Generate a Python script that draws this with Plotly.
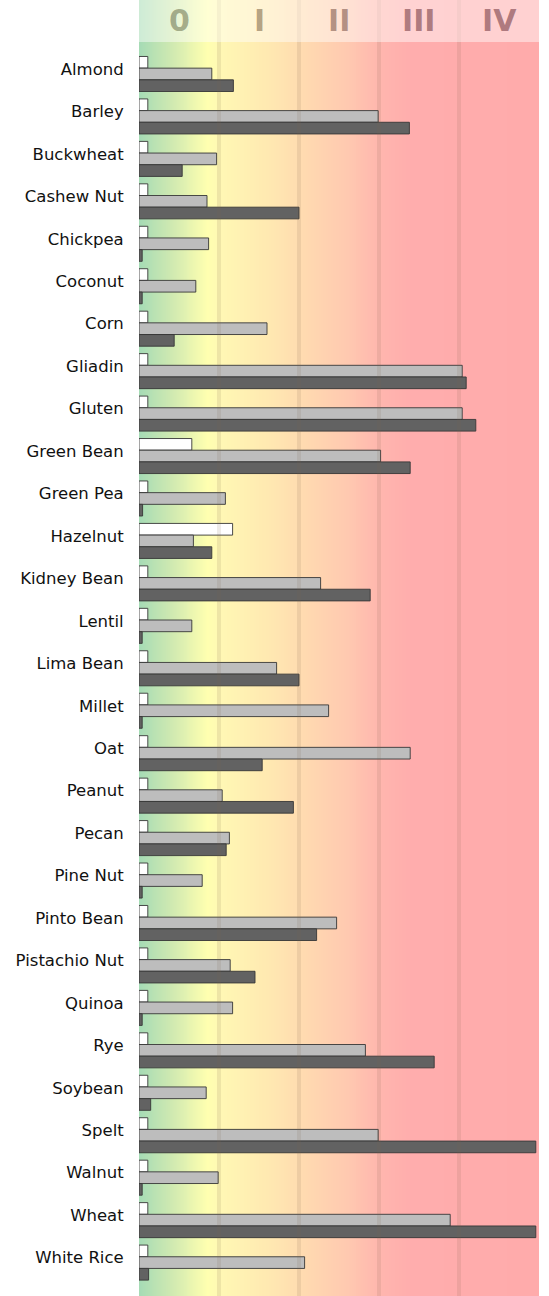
import plotly.graph_objects as go
import numpy as np

categories = ["Almond", "Barley", "Buckwheat", "Cashew Nut", "Chickpea", "Coconut", "Corn",
              "Gliadin", "Gluten", "Green Bean", "Green Pea", "Hazelnut", "Kidney Bean", "Lentil",
              "Lima Bean", "Millet", "Oat", "Peanut", "Pecan", "Pine Nut", "Pinto Bean",
              "Pistachio Nut", "Quinoa", "Rye", "Soybean", "Spelt", "Walnut", "Wheat", "White Rice"]

series_white = [0.11, 0.11, 0.11, 0.11, 0.11, 0.11, 0.11, 0.11, 0.11, 0.66, 0.11, 1.17, 0.11, 0.11,
                0.11, 0.11, 0.11, 0.11, 0.11, 0.11, 0.11, 0.11, 0.11, 0.11, 0.11, 0.11, 0.11, 0.11, 0.11]
series_gray = [0.91, 2.99, 0.97, 0.85, 0.87, 0.71, 1.60, 4.04, 4.04, 3.02, 1.08, 0.68, 2.27, 0.66,
               1.72, 2.37, 3.39, 1.04, 1.13, 0.79, 2.47, 1.14, 1.17, 2.83, 0.84, 2.99, 0.99, 3.89, 2.07]
series_dark = [1.18, 3.38, 0.54, 2.00, 0.04, 0.04, 0.44, 4.09, 4.21, 3.39, 0.045, 0.91, 2.89, 0.04,
               2.00, 0.04, 1.54, 1.93, 1.09, 0.04, 2.22, 1.45, 0.04, 3.69, 0.146, 4.96, 0.04, 4.96, 0.12]

class_labels = ["0", "I", "II", "III", "IV"]

# background gradient stops (x in class units, colour)
bg_stops = [(0.0, "#a6dbb5"), (0.4, "#cfe9b1"), (0.85, "#ffffb0"), (1.0, "#fff8b4"),
            (1.6, "#ffe9b1"), (2.0, "#ffdcb0"), (2.6, "#ffc9b0"), (3.0, "#ffb6ae"),
            (3.4, "#ffadad"), (5.0, "#ffabab")]
header_colors = ["rgba(75,80,45,0.45)", "rgba(90,60,30,0.45)", "rgba(85,40,30,0.45)",
                 "rgba(85,25,35,0.48)", "rgba(85,25,35,0.48)"]

XMAX = 5.0
Y_TOP = -1.743
Y_BOT = 28.787
HEADER_BOTTOM = -0.754

pos = list(range(len(categories)))

fig = go.Figure()

# gradient background
hx = np.linspace(-0.05, XMAX + 0.05, 211)
fig.add_trace(go.Heatmap(
    x=hx, y=[Y_TOP - 1, Y_BOT + 1], z=[hx, hx],
    colorscale=[[max(0, min(1, s / XMAX)), c] for s, c in bg_stops],
    zmin=0, zmax=XMAX, zsmooth="best", showscale=False, hoverinfo="skip"))

# class boundary lines
for k in range(1, len(class_labels)):
    fig.add_trace(go.Scatter(x=[k, k], y=[Y_TOP - 1, Y_BOT + 1], mode="lines",
                             line=dict(color="rgba(120,100,80,0.13)", width=4),
                             hoverinfo="skip", showlegend=False))

outline = dict(color="rgba(55,55,55,0.9)", width=1)
for vals, col in [(series_white, "#ffffff"), (series_gray, "#bdbdbd"), (series_dark, "#626262")]:
    fig.add_trace(go.Bar(y=pos, x=vals, orientation="h", marker=dict(color=col, line=outline),
                         showlegend=False))

# header overlay
fig.add_shape(type="rect", xref="x", yref="y", x0=0, x1=XMAX, y0=Y_TOP, y1=HEADER_BOTTOM,
              fillcolor="rgba(255,255,255,0.45)", line=dict(width=0), layer="above")

for i, lab in enumerate(class_labels):
    fig.add_annotation(x=i + 0.5, y=(Y_TOP + HEADER_BOTTOM) / 2, text=lab, showarrow=False,
                       xref="x", yref="y",
                       font=dict(family="DejaVu Sans", size=30, weight=700,
                                 color=header_colors[i]))

fig.update_layout(
    width=549, height=1296,
    margin=dict(l=139, r=10, t=0, b=0),
    barmode="group", bargap=0.175, bargroupgap=0,
    paper_bgcolor="white", plot_bgcolor="white",
    xaxis=dict(range=[0, XMAX], showgrid=False, zeroline=False, showticklabels=False,
               fixedrange=True),
    yaxis=dict(range=[Y_BOT, Y_TOP], showgrid=False, zeroline=False,
               tickvals=[p - 0.118 for p in pos], ticktext=categories,
               ticks="outside", ticklen=11, tickcolor="rgba(0,0,0,0)",
               tickfont=dict(family="DejaVu Sans", size=16.5, color="#111111")),
    font=dict(family="DejaVu Sans"),
)

fig.write_html("out.html", config={"displayModeBar": False},
               post_script="document.body.style.margin='0';document.body.style.overflow='hidden';")
